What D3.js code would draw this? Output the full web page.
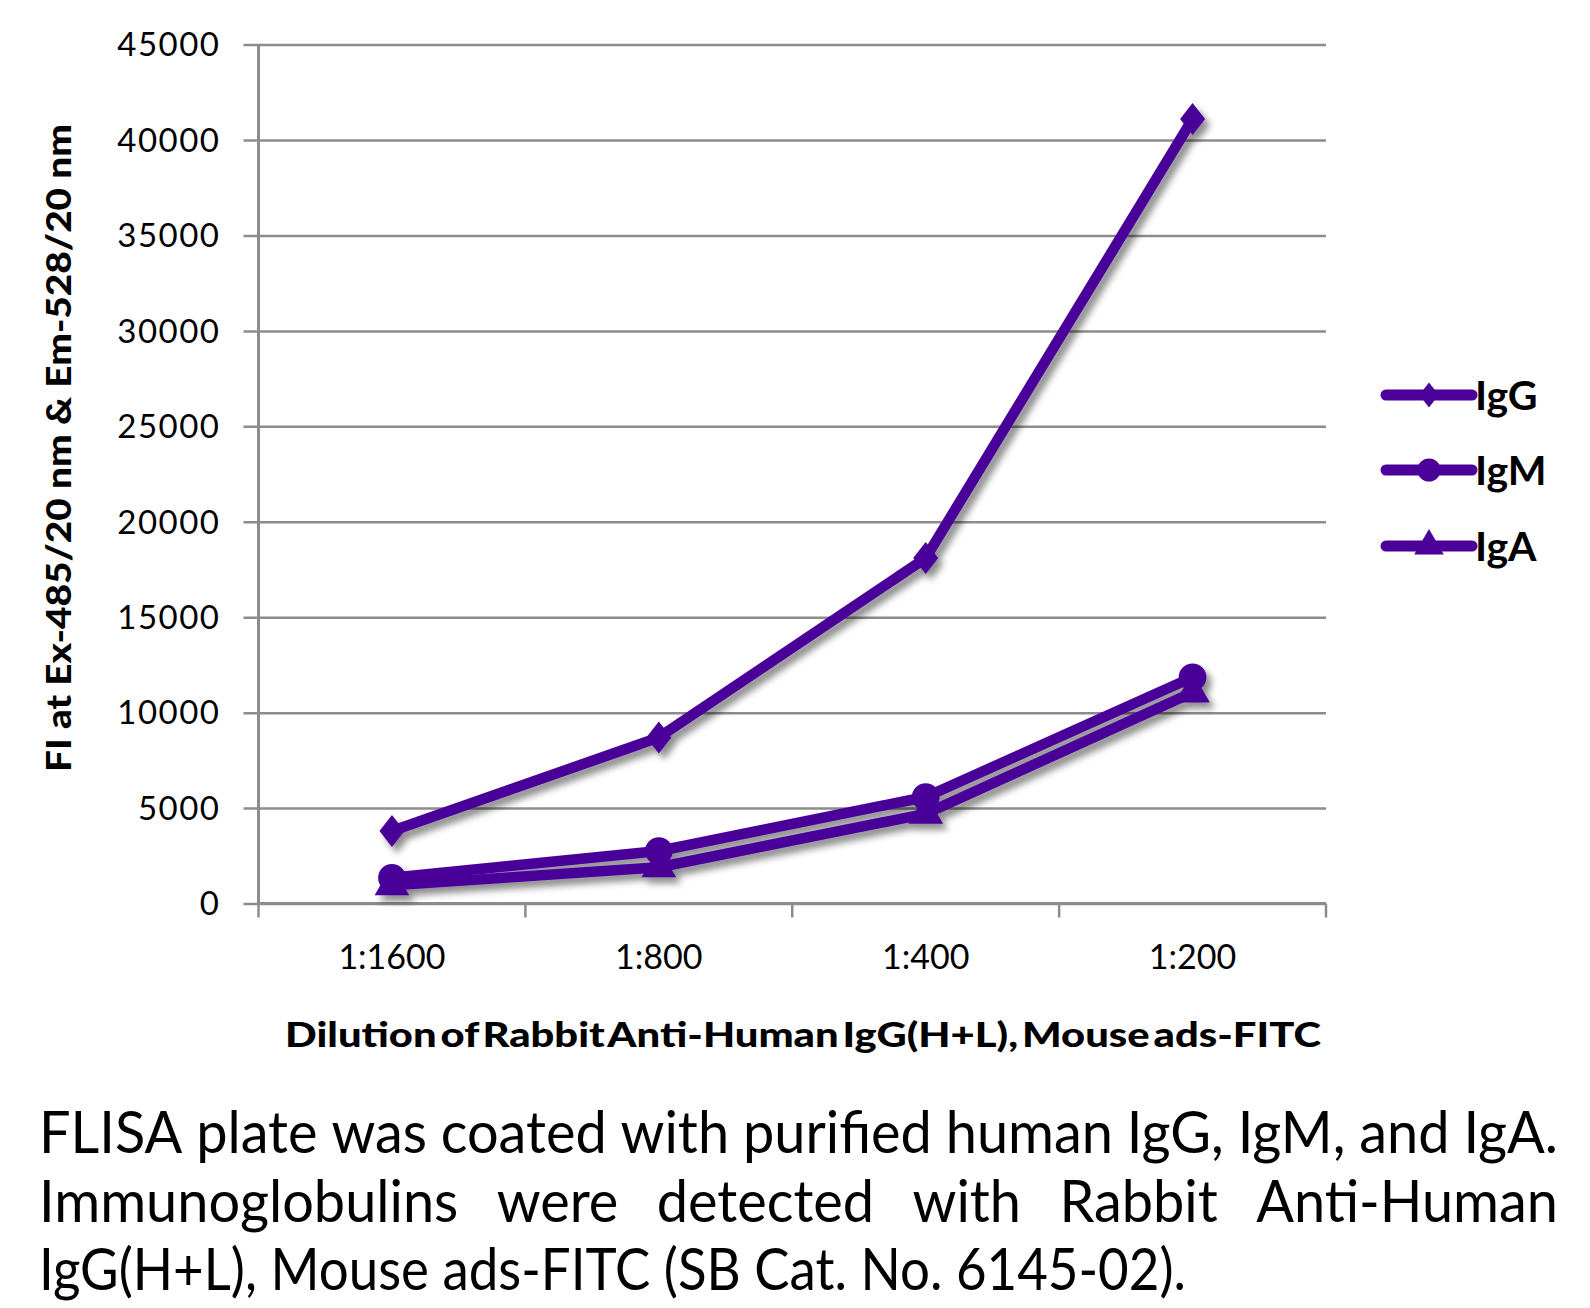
<!DOCTYPE html>
<html>
<head>
<meta charset="utf-8">
<script src="https://cdn.jsdelivr.net/npm/d3@7"></script>
<style>
  body { margin: 0; background: #fff; }
  svg { display: block; }
</style>
</head>
<body>
<svg id="chart"></svg>
<script>
// Data
const dilutions = ['1:1600', '1:800', '1:400', '1:200'];
const seriesNames = ['IgG', 'IgM', 'IgA'];
const igG = [3800, 8700, 18100, 41100];
const igM = [1350, 2750, 5580, 11850];
const igA = [950, 1900, 4700, 11050];
const yTicks = [0, 5000, 10000, 15000, 20000, 25000, 30000, 35000, 40000, 45000];
const captionLines = [
  'FLISA plate was coated with purified human IgG, IgM, and IgA.',
  'Immunoglobulins were detected with Rabbit Anti-Human',
  'IgG(H+L), Mouse ads-FITC (SB Cat. No. 6145-02).'
];

const W = 1590, H = 1308;
const purple = '#4a0099';
const plot = { left: 258.5, right: 1326, top: 44.6, bottom: 903.5 };

const svg = d3.select('#chart').attr('width', W).attr('height', H);

// drop shadow like the original office chart
const defs = svg.append('defs');
defs.append('filter')
  .attr('id', 'shadow')
  .attr('x', '-20%').attr('y', '-20%').attr('width', '140%').attr('height', '140%')
  .append('feDropShadow')
  .attr('dx', 5).attr('dy', 6).attr('stdDeviation', 3.5)
  .attr('flood-color', '#000').attr('flood-opacity', 0.45);

// wider diamond than d3's built-in one (office style marker)
const wideDiamond = {
  draw(ctx, size) {
    const k = Math.sqrt(size / 800);
    const w = 12.5 * k, h = 16 * k;
    ctx.moveTo(0, -h);
    ctx.lineTo(w, 0);
    ctx.lineTo(0, h);
    ctx.lineTo(-w, 0);
    ctx.closePath();
  }
};

// Scales
const xScale = d3.scaleBand().domain(dilutions).range([plot.left, plot.right]).padding(0);
const yScale = d3.scaleLinear().domain([0, 45000]).range([plot.bottom, plot.top]);

// Gridlines + y axis
const yAxis = d3.axisLeft(yScale)
  .tickValues(yTicks)
  .tickSize(-(plot.right - plot.left))
  .tickPadding(0)
  .tickFormat(d3.format('d'));

const yAxisG = svg.append('g')
  .attr('transform', `translate(${plot.left},0)`)
  .call(yAxis)
  .call(g => g.select('.domain').remove());

yAxisG.selectAll('.tick line')
  .attr('x1', -15)
  .attr('stroke', '#8c8c8c')
  .attr('stroke-width', 2.5);

yAxisG.selectAll('.tick text')
  .attr('x', -38)
  .attr('dy', '0.34em')
  .attr('fill', '#000')
  .style('font-family', 'Lato, "Noto Sans", sans-serif')
  .style('font-size', '33px')
  .style('letter-spacing', '1.5px');

// vertical axis line
svg.append('line')
  .attr('x1', plot.left).attr('x2', plot.left)
  .attr('y1', plot.top).attr('y2', plot.bottom)
  .attr('stroke', '#8c8c8c').attr('stroke-width', 3);

// x axis (ticks at category boundaries)
const xAxisG = svg.append('g')
  .attr('transform', `translate(0,${plot.bottom})`);

xAxisG.append('line')
  .attr('x1', plot.left).attr('x2', plot.right)
  .attr('stroke', '#8c8c8c').attr('stroke-width', 3);

const bounds = dilutions.map(d => xScale(d)).concat([plot.right]);
xAxisG.selectAll('.xtick')
  .data(bounds)
  .join('line')
  .attr('class', 'xtick')
  .attr('x1', d => d).attr('x2', d => d)
  .attr('y1', 0).attr('y2', 14)
  .attr('stroke', '#8c8c8c').attr('stroke-width', 2.5);

xAxisG.selectAll('.xlabel')
  .data(dilutions)
  .join('text')
  .attr('class', 'xlabel')
  .attr('x', d => xScale(d) + xScale.bandwidth() / 2)
  .attr('y', 65)
  .attr('text-anchor', 'middle')
  .style('font-family', 'Lato, "Noto Sans", sans-serif')
  .style('font-size', '34px')
  .text(d => d);

// Axis titles
svg.append('text')
  .attr('transform', 'translate(71,448) rotate(-90)')
  .attr('text-anchor', 'middle')
  .attr('textLength', 648)
  .attr('lengthAdjust', 'spacingAndGlyphs')
  .style('font-family', 'Lato, "Noto Sans", sans-serif')
  .style('font-weight', '900')
  .style('font-size', '35px')
  .text('FI at Ex-485/20 nm & Em-528/20 nm');

svg.append('text')
  .attr('x', 803)
  .attr('y', 1047)
  .attr('text-anchor', 'middle')
  .attr('textLength', 1036)
  .attr('lengthAdjust', 'spacingAndGlyphs')
  .style('font-family', 'Lato, "Noto Sans", sans-serif')
  .style('font-weight', '900')
  .style('font-size', '35px')
  .style('word-spacing', '-5px')
  .text('Dilution of Rabbit Anti-Human IgG(H+L), Mouse ads-FITC');

// Series
const series = [
  { name: seriesNames[0], values: igG, symbol: wideDiamond, size: 800, legendSize: 480 },
  { name: seriesNames[1], values: igM, symbol: d3.symbolCircle, size: 600, legendSize: 420 },
  { name: seriesNames[2], values: igA, symbol: d3.symbolTriangle, size: 520, legendSize: 380 }
];

const line = d3.line()
  .x((d, i) => xScale(dilutions[i]) + xScale.bandwidth() / 2)
  .y(d => yScale(d));

const seriesG = svg.append('g').attr('filter', 'url(#shadow)');

series.forEach(s => {
  const g = seriesG.append('g').attr('class', 'series');
  g.append('path')
    .datum(s.values)
    .attr('d', line)
    .attr('fill', 'none')
    .attr('stroke', purple)
    .attr('stroke-width', 10.5)
    .attr('stroke-linejoin', 'round');
  g.selectAll('.marker')
    .data(s.values)
    .join('path')
    .attr('class', 'marker')
    .attr('d', d3.symbol().type(s.symbol).size(s.size))
    .attr('transform', (d, i) => `translate(${xScale(dilutions[i]) + xScale.bandwidth() / 2},${yScale(d)})`)
    .attr('fill', purple);
});

// Legend
const legend = svg.append('g').attr('transform', 'translate(1386,0)');
const legendY = [395, 470, 546];
series.forEach((s, i) => {
  const g = legend.append('g').attr('transform', `translate(0,${legendY[i]})`);
  g.append('line')
    .attr('x1', 0).attr('x2', 86)
    .attr('stroke', purple).attr('stroke-width', 11)
    .attr('stroke-linecap', 'round');
  g.append('path')
    .attr('d', d3.symbol().type(s.symbol).size(s.legendSize))
    .attr('transform', 'translate(43,0)')
    .attr('fill', purple);
  g.append('text')
    .attr('x', 89)
    .attr('dy', '0.36em')
    .style('font-family', 'Lato, "Noto Sans", sans-serif')
    .style('font-weight', 'bold')
    .style('font-size', '41px')
    .text(s.name);
});

// Caption, justified like the original; glyphs squeezed so line 1 fits naturally
const capLeft = 39, capRight = 1558;
const capBase = [1153, 1222, 1290];
const justify = [true, true, false];
const lastLineWidth = 1147;
const capSize = 58;

const capG = svg.append('g');
const probe = capG.append('text')
  .style('font-family', 'Lato, "Noto Sans", sans-serif')
  .style('font-size', capSize + 'px')
  .text(captionLines[0]);
const sx = Math.min(1, (capRight - capLeft) / probe.node().getComputedTextLength());
probe.remove();
capG.attr('transform', `translate(${capLeft},0) scale(${sx},1)`);
const capWidth = (capRight - capLeft) / sx;

captionLines.forEach((txt, li) => {
  const t = capG.append('text')
    .attr('y', capBase[li])
    .style('font-family', 'Lato, "Noto Sans", sans-serif')
    .style('font-size', capSize + 'px');
  if (!justify[li]) {
    t.attr('x', 0).text(txt);
    const nat = t.node().getComputedTextLength();
    const target = lastLineWidth / sx;
    if (nat > target) t.attr('textLength', target).attr('lengthAdjust', 'spacingAndGlyphs');
    return;
  }
  const words = txt.split(' ');
  const spans = words.map(w => t.append('tspan').text(w));
  const widths = spans.map(s => s.node().getComputedTextLength());
  const gap = (capWidth - d3.sum(widths)) / (words.length - 1);
  let x = 0;
  spans.forEach((s, i) => {
    s.attr('x', x);
    x += widths[i] + gap;
  });
});
</script>
</body>
</html>
